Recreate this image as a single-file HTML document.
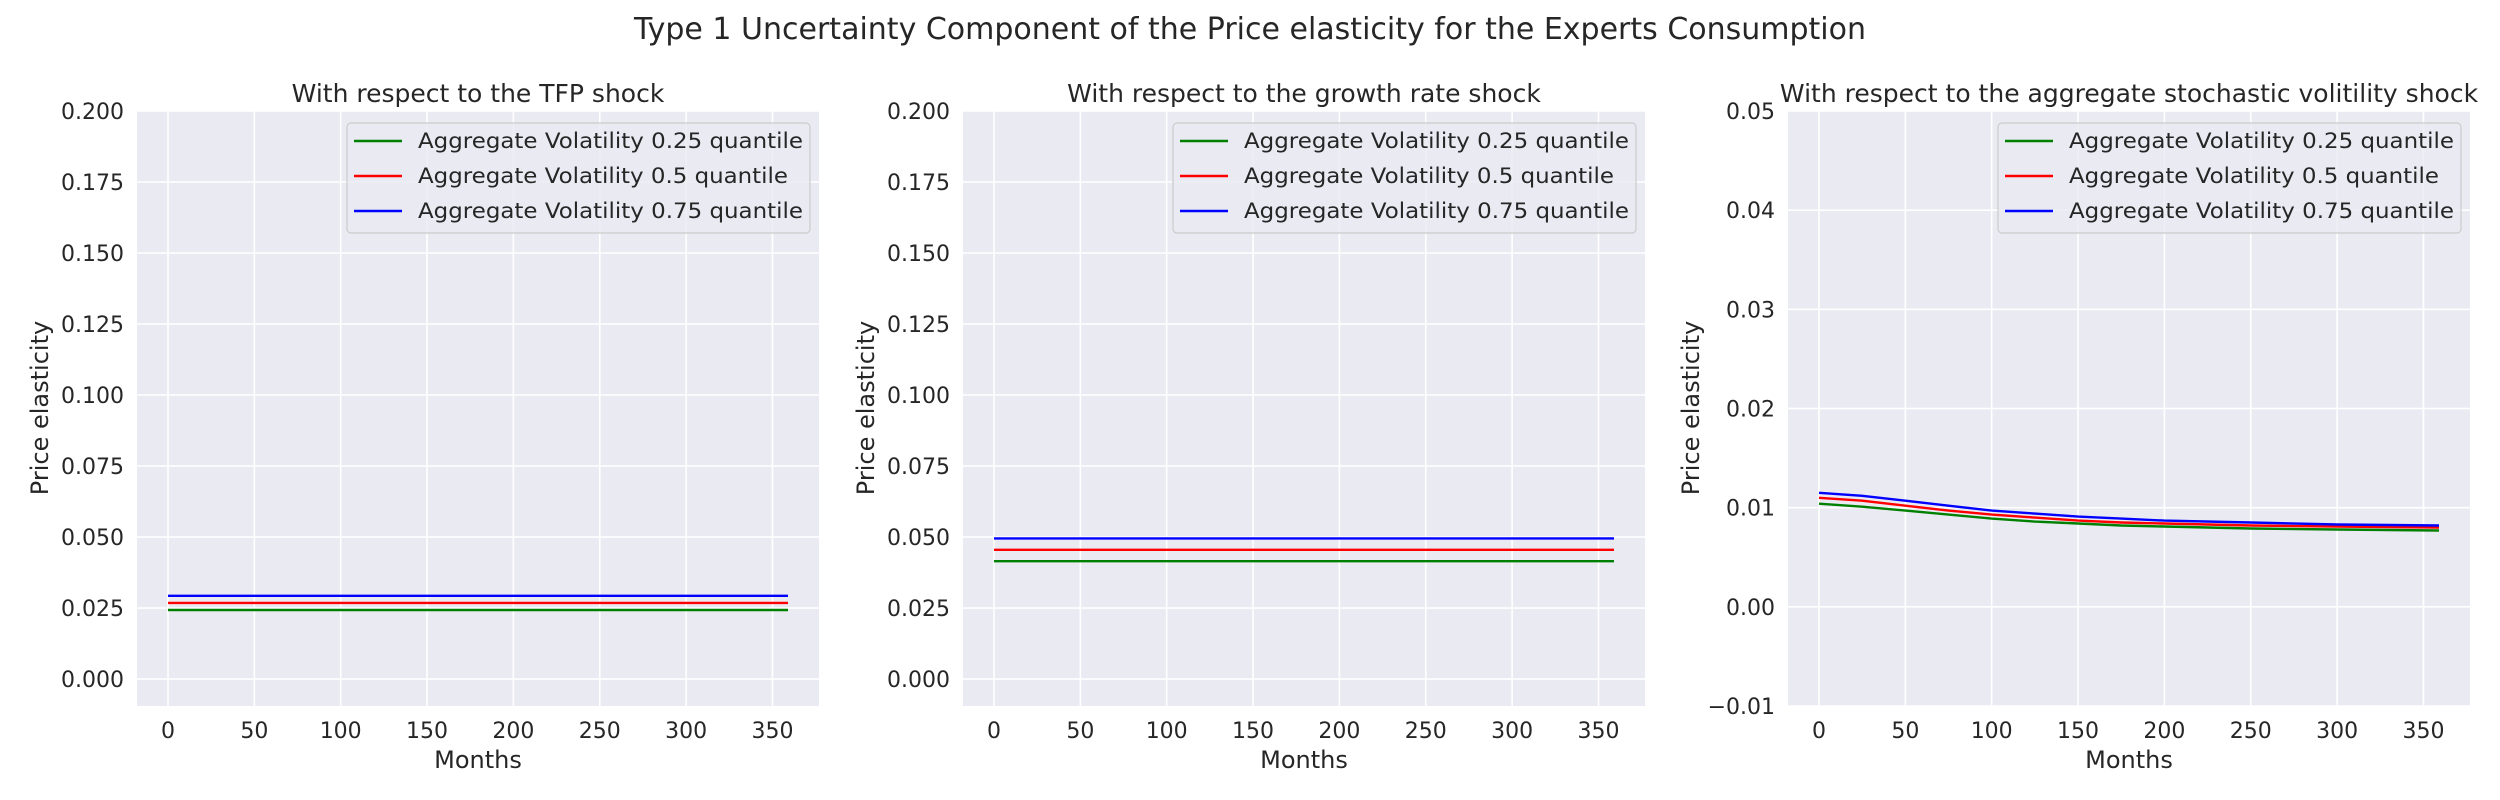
<!DOCTYPE html>
<html><head><meta charset="utf-8"><style>
html,body{margin:0;padding:0;background:#fff;}
svg{display:block;font-family:"DejaVu Sans","Liberation Sans",sans-serif;}
</style></head><body>
<svg id="fig" width="2500" height="800" viewBox="0 0 2500 800" xmlns="http://www.w3.org/2000/svg">
<text x="1250" y="39" text-anchor="middle" font-size="30" fill="#262626">Type 1 Uncertainty Component of the Price elasticity for the Experts Consumption</text>
</svg>
<script>
const months = [0,25,50,75,100,125,150,175,200,250,300,359];
const xTicks = [0,50,100,150,200,250,300,350];
const panelTitles = ["With respect to the TFP shock","With respect to the growth rate shock","With respect to the aggregate stochastic volitility shock"];
const seriesNames = ["Aggregate Volatility 0.25 quantile","Aggregate Volatility 0.5 quantile","Aggregate Volatility 0.75 quantile"];
const yTicks1 = [0,0.025,0.05,0.075,0.1,0.125,0.15,0.175,0.2];
const yTickLabels1 = ["0.000","0.025","0.050","0.075","0.100","0.125","0.150","0.175","0.200"];
const yTicks3 = [-0.01,0,0.01,0.02,0.03,0.04,0.05];
const yTickLabels3 = ["\u22120.01","0.00","0.01","0.02","0.03","0.04","0.05"];
const tfpLow = [0.0243,0.0243,0.0243,0.0243,0.0243,0.0243,0.0243,0.0243,0.0243,0.0243,0.0243,0.0243];
const tfpMid = [0.0268,0.0268,0.0268,0.0268,0.0268,0.0268,0.0268,0.0268,0.0268,0.0268,0.0268,0.0268];
const tfpHigh = [0.0293,0.0293,0.0293,0.0293,0.0293,0.0293,0.0293,0.0293,0.0293,0.0293,0.0293,0.0293];
const grLow = [0.0415,0.0415,0.0415,0.0415,0.0415,0.0415,0.0415,0.0415,0.0415,0.0415,0.0415,0.0415];
const grMid = [0.0455,0.0455,0.0455,0.0455,0.0455,0.0455,0.0455,0.0455,0.0455,0.0455,0.0455,0.0455];
const grHigh = [0.0495,0.0495,0.0495,0.0495,0.0495,0.0495,0.0495,0.0495,0.0495,0.0495,0.0495,0.0495];
const svLow = [0.0104,0.0101,0.0097,0.0093,0.0089,0.0086,0.0084,0.0082,0.0081,0.0079,0.0078,0.0077];
const svMid = [0.0110,0.0107,0.0102,0.0097,0.0093,0.0090,0.0087,0.0085,0.0084,0.0082,0.0081,0.0080];
const svHigh = [0.0115,0.0112,0.0107,0.0102,0.0097,0.0094,0.0091,0.0089,0.0087,0.0085,0.0083,0.0082];

const NS = "http://www.w3.org/2000/svg";
const fig = document.getElementById('fig');
const colors = ["#008000","#ff0000","#0000ff"];
const names = ["tfp","growth","stochvol"];
const panels = [
  {left:137, yMin:-0.0095, yMax:0.2, ticks:yTicks1, labels:yTickLabels1, data:[tfpLow,tfpMid,tfpHigh]},
  {left:963, yMin:-0.0095, yMax:0.2, ticks:yTicks1, labels:yTickLabels1, data:[grLow,grMid,grHigh]},
  {left:1788, yMin:-0.01, yMax:0.05, ticks:yTicks3, labels:yTickLabels3, data:[svLow,svMid,svHigh]}
];
const W = 682, plotTop = 111, plotBottom = 706, xMin = -17.95, xMax = 376.95;
function mk(tag, attrs, parent){const e=document.createElementNS(NS,tag);for(const k in attrs)e.setAttribute(k,attrs[k]);(parent||fig).appendChild(e);return e;}

panels.forEach((p,pi)=>{
  const g = mk('g',{});
  
  
  const sx = v => p.left + (v - xMin)/(xMax - xMin)*W;
  const sy = v => plotBottom - (v - p.yMin)/(p.yMax - p.yMin)*(plotBottom - plotTop);
  const bg = mk('rect',{x:p.left,y:plotTop,width:W,height:plotBottom-plotTop,fill:'#eaeaf2'},g);
  
  
  xTicks.forEach(t=>{
    const l = mk('line',{x1:sx(t),x2:sx(t),y1:plotTop,y2:plotBottom,stroke:'#fff','stroke-width':1.6},g);
    
    
    const tx = mk('text',{x:sx(t),y:738,'text-anchor':'middle','font-size':22,fill:'#262626'},g);
    
    
    tx.textContent = t;
  });
  p.ticks.forEach((t,i)=>{
    const l = mk('line',{x1:p.left,x2:p.left+W,y1:sy(t),y2:sy(t),stroke:'#fff','stroke-width':1.6},g);
    
    
    const tx = mk('text',{x:p.left-13,y:sy(t)+8,'text-anchor':'end','font-size':22,fill:'#262626'},g);
    
    
    tx.textContent = p.labels[i];
  });
  p.data.forEach((s,si)=>{
    const d = s.map((v,i)=>(i?'L':'M')+sx(months[i]).toFixed(1)+','+sy(v).toFixed(1)).join(' ');
    const path = mk('path',{d:d,fill:'none',stroke:colors[si],'stroke-width':2.4},g);
    
    
  });
  const t = mk('text',{x:p.left+W/2,y:102,'text-anchor':'middle','font-size':25,fill:'#262626'},g);
  
  
  t.textContent = panelTitles[pi];
  const xl = mk('text',{x:p.left+W/2,y:768,'text-anchor':'middle','font-size':24,fill:'#262626'},g);
  
  
  xl.textContent = 'Months';
  const yl = mk('text',{x:0,y:0,'text-anchor':'middle','font-size':24,fill:'#262626',transform:'translate('+(p.left-89)+',408) rotate(-90)'},g);
  
  
  yl.textContent = 'Price elasticity';
  const lg = mk('g',{},g);
  
  
  const lx = p.left + W - 472;
  mk('rect',{x:lx,y:123,width:463,height:110,rx:4,fill:'#eaeaf2','fill-opacity':0.8,stroke:'#cccccc','stroke-width':1.2},lg);
  seriesNames.forEach((n,si)=>{
    const yy = 141 + si*35;
    const e = mk('g',{},lg);
    
    
    mk('line',{x1:lx+7,x2:lx+55,y1:yy,y2:yy,stroke:colors[si],'stroke-width':2.4},e);
    const tx = mk('text',{x:lx+71,y:yy+7,'font-size':21,fill:'#262626',textLength:si===1?370:385,lengthAdjust:'spacingAndGlyphs'},e);
    tx.textContent = n;
  });
});
</script>
</body></html>
